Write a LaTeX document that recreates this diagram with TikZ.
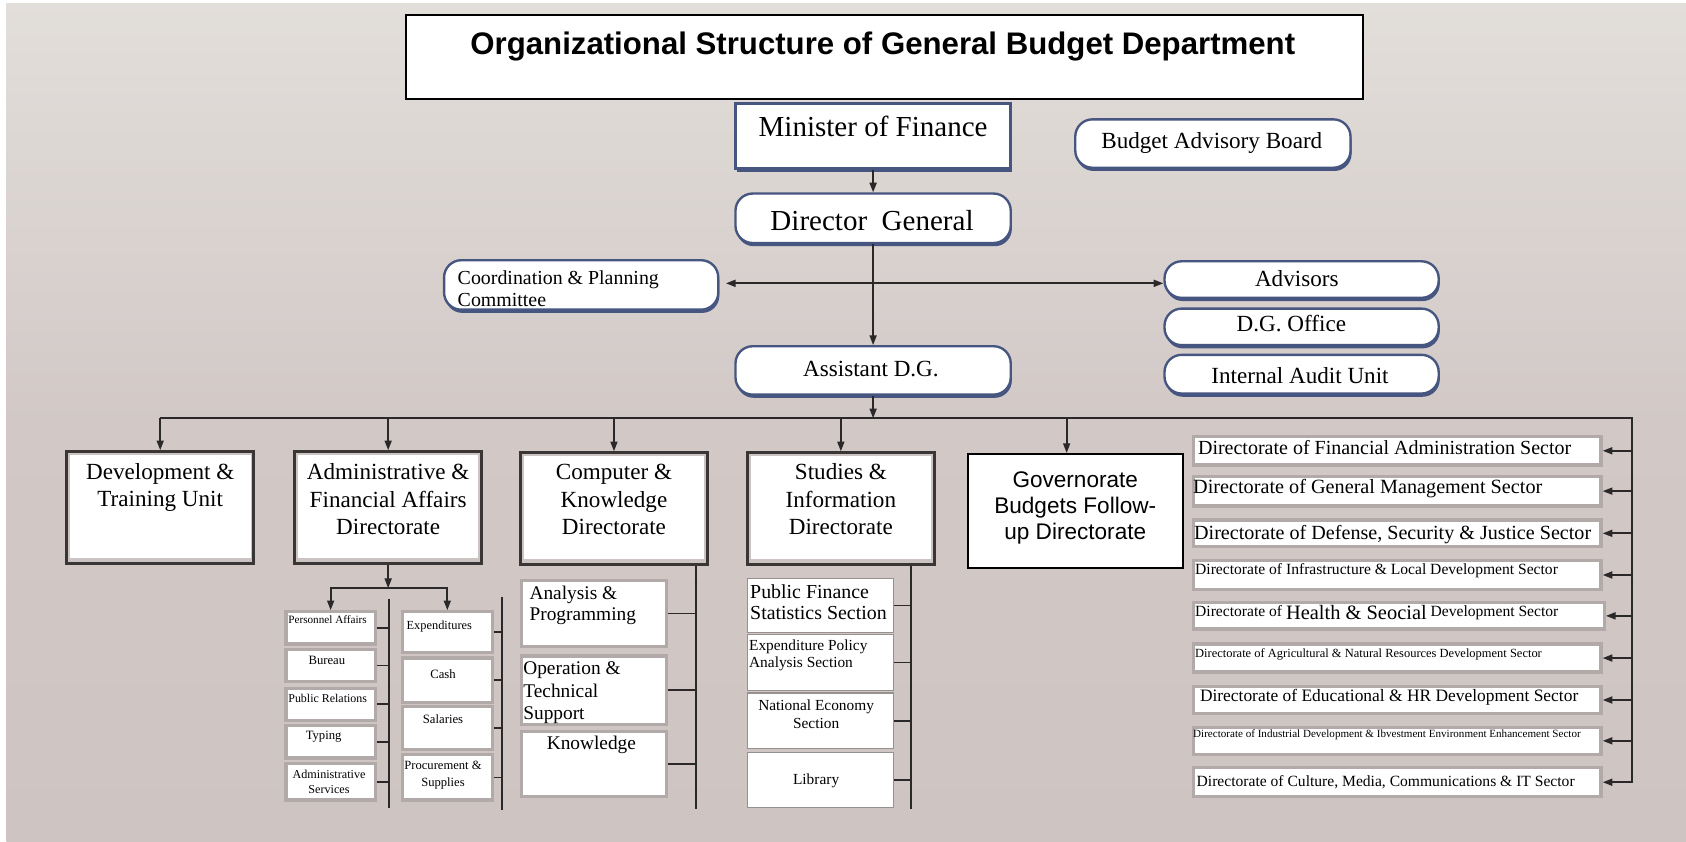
\documentclass[tikz,border=0pt]{standalone}
\usepackage{fontspec}
\setmainfont{Liberation Serif}
\newfontfamily\sansarial{Liberation Sans}
\usetikzlibrary{arrows.meta,fit,shadows}

\definecolor{bluegray}{RGB}{70,86,128}
\definecolor{framedark}{RGB}{59,54,54}
\definecolor{frameinner}{RGB}{203,196,195}
\definecolor{subframe}{RGB}{178,170,169}
\definecolor{thinframe}{RGB}{150,144,143}
\definecolor{linecol}{RGB}{42,40,40}
\definecolor{bgtop}{RGB}{226,222,218}
\definecolor{bgmid}{RGB}{210,201,199}
\definecolor{bgbot}{RGB}{206,197,195}

\newcommand\setfs[2]{\fontsize{#1}{#2}\selectfont}
\newcommand\linesc[1]{\begin{tabular}[t]{@{}c@{}}#1\end{tabular}}
\newcommand\linesl[1]{\begin{tabular}[t]{@{}l@{}}#1\end{tabular}}

\tikzset{
  plainbox/.style={inner sep=0pt, fill=white},
  titlebox/.style={plainbox, draw=black, line width=1.8pt},
  pill/.style={plainbox, draw=bluegray, line width=2.2pt, rounded corners=16pt,
    drop shadow={shadow xshift=1pt, shadow yshift=-3pt, fill=bluegray, opacity=1}},
  minbox/.style={plainbox, draw=bluegray, line width=2.6pt,
    drop shadow={shadow xshift=1.5pt, shadow yshift=-2.5pt, fill=bluegray, opacity=1}},
  unitbox/.style={plainbox, draw=framedark, line width=2.6pt,
    path picture={
      \fill[frameinner] (path picture bounding box.south west)
        rectangle ([yshift=5.5pt]path picture bounding box.south east);
      \draw[frameinner, line width=6pt] (path picture bounding box.south west)
        rectangle (path picture bounding box.north east);
    }},
  govbox/.style={plainbox, draw=black, line width=1.5pt},
  subbox/.style={plainbox, draw=subframe, line width=3pt},
  secbox/.style={plainbox, draw=thinframe, line width=1.4pt},
  dirbox/.style={plainbox, draw=subframe, line width=3pt},
  conn/.style={draw=linecol, line width=1.6pt},
  colline/.style={draw=linecol, line width=2.2pt},
  lbl/.style={inner sep=0pt, anchor=base},
  lblw/.style={inner sep=0pt, anchor=base west},
  >={Triangle[length=9pt,width=6.5pt]},
}

\begin{document}
\begin{tikzpicture}[x=1pt, y=-1pt]
\useasboundingbox (0,0) rectangle (1568,783);

% paper background
\fill[white] (0,0) rectangle (1568,783);
\shade[top color=bgtop, bottom color=bgbot, middle color=bgmid] (6,3) rectangle (1568,783);

% heading
\node[titlebox, fit={(378,14) (1268,92)}] (title) {};
\node[lbl, font=\sansarial\bfseries\setfs{29}{34}] (title-t) at (821,51)
  {Organizational Structure of General Budget Department};

% top management
\node[minbox, fit={(684,96) (940,157)}] (minister) {};
\node[lbl, font=\setfs{27}{32}] (minister-t) at (812,127) {Minister of Finance};

\node[pill, fit={(1000,111) (1256,156)}] (board) {};
\node[lbl, font=\setfs{21.5}{26}] (board-t) at (1127,138) {Budget Advisory Board};

\node[pill, fit={(684,180) (940,226)}] (dg) {};
\node[lbl, font=\setfs{27}{32}] (dg-t) at (811,214) {Director\ \ General};

\node[pill, fit={(413,242) (668,288)}] (coord) {};
\node[lblw, font=\setfs{18.5}{20.2}] (coord-t) at (425.5,265)
  {\linesl{Coordination \& Planning\\Committee}};

\node[pill, fit={(1083,243) (1338,277)}] (advisors) {};
\node[lbl, font=\setfs{21.5}{26}] (advisors-t) at (1206,266.6) {Advisors};
\node[pill, fit={(1083,287) (1338,321)}] (dgoffice) {};
\node[lbl, font=\setfs{21.5}{26}] (dgoffice-t) at (1201,308.5) {D.G. Office};
\node[pill, fit={(1083,330) (1338,366)}] (audit) {};
\node[lbl, font=\setfs{21.5}{26}] (audit-t) at (1209,356.5) {Internal Audit Unit};

\node[pill, fit={(684,322) (940,367)}] (asst) {};
\node[lbl, font=\setfs{21.5}{26}] (asst-t) at (810,350.3) {Assistant D.G.};

% directorates and units
\node[unitbox, fit={(62,420) (236,524)}] (dev) {};
\node[lbl, font=\setfs{21.5}{24.6}] (dev-t) at (149,446.4)
  {\linesc{Development \&\\Training Unit}};
\node[unitbox, fit={(274,420) (448,524)}] (admin) {};
\node[lbl, font=\setfs{21.5}{25.5}] (admin-t) at (361,446.4)
  {\linesc{Administrative \&\\Financial Affairs\\Directorate}};
\node[unitbox, fit={(484,421) (658,525)}] (comp) {};
\node[lbl, font=\setfs{21.5}{25.5}] (comp-t) at (571,446.4)
  {\linesc{Computer \&\\Knowledge\\Directorate}};
\node[unitbox, fit={(695,421) (869,525)}] (studies) {};
\node[lbl, font=\setfs{21.5}{25.5}] (studies-t) at (782,446.4)
  {\linesc{Studies \&\\Information\\Directorate}};
\node[govbox, fit={(900,422) (1100,528)}] (gov) {};
\node[lbl, font=\sansarial\setfs{21}{24.5}] (gov-t) at (1000,453.2)
  {\linesc{Governorate\\Budgets Follow-\\up Directorate}};

% administrative & financial affairs sections
\node[subbox, fit={(266,569) (349,599)}] (pers) {};
\node[lblw, font=\setfs{10.4}{12}] (pers-t) at (268,579.7) {Personnel Affairs};
\node[subbox, fit={(266,604) (349,634)}] (bur) {};
\node[lbl, font=\setfs{11.8}{14}] (bur-t) at (304,618.4) {Bureau};
\node[subbox, fit={(266,640) (349,670)}] (pr) {};
\node[lblw, font=\setfs{11.1}{13}] (pr-t) at (268,653.5) {Public Relations};
\node[subbox, fit={(266,675) (349,705)}] (typ) {};
\node[lbl, font=\setfs{11.8}{14}] (typ-t) at (301,688.2) {Typing};
\node[subbox, fit={(266,710) (349,744)}] (adms) {};
\node[lbl, font=\setfs{11.3}{14.6}] (adms-t) at (306,723.8) {\linesc{Administrative\\Services}};

\node[subbox, fit={(374,569) (458,607)}] (exp) {};
\node[lblw, font=\setfs{11.5}{14}] (exp-t) at (378,585) {Expenditures};
\node[subbox, fit={(374,612) (458,653)}] (cash) {};
\node[lbl, font=\setfs{11.8}{14}] (cash-t) at (412,630.8) {Cash};
\node[subbox, fit={(374,657) (458,697)}] (sal) {};
\node[lbl, font=\setfs{11.8}{14}] (sal-t) at (412,673.3) {Salaries};
\node[subbox, fit={(374,702) (458,744)}] (proc) {};
\node[lbl, font=\setfs{11.7}{15.6}] (proc-t) at (412,716) {\linesc{Procurement \&\\Supplies}};

% computer & knowledge sections
\node[subbox, fit={(485,540) (620,601)}] (ana) {};
\node[lblw, font=\setfs{18}{19.8}] (ana-t) at (492.3,557.4) {\linesl{Analysis \&\\Programming}};
\node[subbox, fit={(485,610) (620,674)}] (ops) {};
\node[lblw, font=\setfs{18}{20.6}] (ops-t) at (486.5,627.7) {\linesl{Operation \&\\Technical\\Support}};
\node[subbox, fit={(485,680) (620,741)}] (know) {};
\node[lbl, font=\setfs{18}{20}] (know-t) at (550,697.5) {Knowledge};

% studies & information sections
\node[secbox, fit={(695,538) (831,588)}] (pfs) {};
\node[lblw, font=\setfs{18.5}{20.2}] (pfs-t) at (697.5,556.4) {\linesl{Public Finance\\Statistics Section}};
\node[secbox, fit={(695,590) (831,642)}] (epa) {};
\node[lblw, font=\setfs{14.3}{16}] (epa-t) at (696.5,605) {\linesl{Expenditure Policy\\Analysis Section}};
\node[secbox, fit={(695,644.5) (831,696)}] (nes) {};
\node[lbl, font=\setfs{14.3}{16.2}] (nes-t) at (759,661.2) {\linesc{National Economy\\Section}};
\node[secbox, fit={(695,700) (831,751)}] (lib) {};
\node[lbl, font=\setfs{14.3}{16}] (lib-t) at (759,730) {Library};

% sector directorates
\node[dirbox, fit={(1110,406) (1489,432.5)}] (dir1) {};
\node[lblw, font=\setfs{18.6}{21}] (dir1-t) at (1114,423) {Directorate of Financial Administration Sector};
\node[dirbox, fit={(1110,443) (1489,470.5)}] (dir2) {};
\node[lblw, font=\setfs{18.8}{21}] (dir2-t) at (1109.5,458.8) {Directorate of General Management Sector};
\node[dirbox, fit={(1110,483.5) (1489,508.5)}] (dir3) {};
\node[lblw, font=\setfs{18.7}{21}] (dir3-t) at (1110.4,501.6) {Directorate of Defense, Security \& Justice Sector};
\node[dirbox, fit={(1110,521.5) (1489,548)}] (dir4) {};
\node[lblw, font=\setfs{14.5}{17}] (dir4-t) at (1111.3,534.7) {Directorate of Infrastructure \& Local Development Sector};
\node[dirbox, fit={(1110,560.5) (1492,585)}] (dir5) {};
\node[lblw, font=\setfs{19}{22}] (dir5-t) at (1111.3,576.6)
  {\raisebox{3pt}{\setfs{14.5}{17}Directorate of }Health \& Seocial\raisebox{3pt}{\setfs{14.5}{17} Development Sector}};
\node[dirbox, fit={(1110,599) (1489,625)}] (dir6) {};
\node[lblw, font=\setfs{11.6}{14}] (dir6-t) at (1111.3,611.6) {Directorate of Agricultural \& Natural Resources Development Sector};
\node[dirbox, fit={(1110,638.5) (1489,663.5)}] (dir7) {};
\node[lblw, font=\setfs{16.2}{19}] (dir7-t) at (1115.8,652.5) {Directorate of Educational \& HR Development Sector};
\node[dirbox, fit={(1110,676.5) (1489,701.5)}] (dir8) {};
\node[lblw, font=\setfs{10.3}{12}] (dir8-t) at (1109.5,685.7) {Directorate of Industrial Development \& Ibvestment Environment Enhancement Sector};
\node[dirbox, fit={(1110,714) (1489,741)}] (dir9) {};
\node[lblw, font=\setfs{14.5}{17}] (dir9-t) at (1112.7,731.6) {Directorate of Culture, Media, Communications \& IT Sector};

% reporting lines
\coordinate (hline) at (812,263.5);
\coordinate (bus) at (812,389);
\coordinate (busR) at (1518,389);
\coordinate (split) at (362,547);

\draw[conn,->] (minister.south) -- (dg.north);
\draw[conn,->] (dg.south) -- (asst.north);
\draw[conn,<->,shorten <=6pt] (hline -| coord.east) -- (hline -| advisors.west);
\draw[conn,->] (asst.south) -- (asst.south |- bus);
\draw[conn,->] (dev.north |- bus) -- (busR) -- (busR |- dir9.east) -- (dir9.east);
\foreach \n in {dev,admin,comp,studies}
  \draw[conn,->] (\n.north |- bus) -- (\n.north);
\draw[conn,->] ([xshift=-8pt]gov.north |- bus) -- ([xshift=-8pt]gov.north);
\foreach \n in {dir1,dir2,dir3,dir4,dir5,dir6,dir7,dir8}
  \draw[conn,->] (\n.east -| busR) -- (\n.east);

% administrative split
\draw[conn,->] (admin.south) -- (admin.south |- split);
\draw[conn,<->] (pers.north) -- (pers.north |- split) -- (exp.north |- split) -- (exp.north);

% section columns
\coordinate (colA) at (362,557);
\coordinate (colAend) at (362,751);
\draw[colline] (colA) -- (colAend);
\foreach \n in {pers,bur,pr,typ,adms}
  \draw[conn] (\n.east) -- (\n.east -| colA);

\coordinate (colB) at (467,555);
\coordinate (colBend) at (467,753);
\draw[colline] (colB) -- (colBend);
\foreach \n in {exp,cash,sal,proc}
  \draw[conn] (\n.east) -- (\n.east -| colB);

\coordinate (colC) at (647,752);
\draw[colline] (comp.south -| colC) -- (colC);
\foreach \n in {ana,ops,know}
  \draw[conn] (\n.east) -- (\n.east -| colC);

\coordinate (colD) at (847,752);
\draw[colline] (studies.south -| colD) -- (colD);
\foreach \n in {pfs,epa,nes,lib}
  \draw[conn] (\n.east) -- (\n.east -| colD);

\end{tikzpicture}
\end{document}
